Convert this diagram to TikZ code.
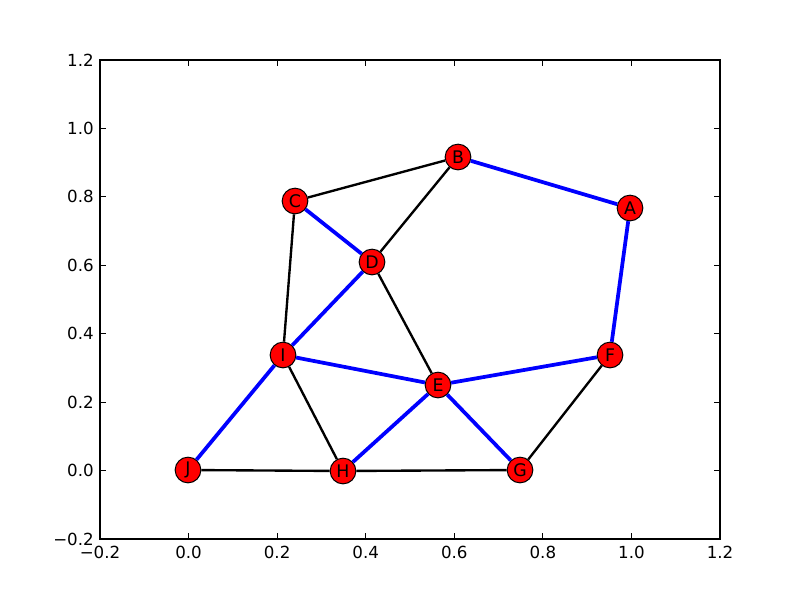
\documentclass[tikz,border=0pt]{standalone}
\usepackage{fontspec}
\setmainfont{DejaVu Sans}
\begin{document}
\begin{tikzpicture}[x=0.72pt,y=-0.72pt,
  vtx/.style={circle,draw=black,fill=red,line width=0.72pt,minimum size=18.5pt,inner sep=0pt,font=\fontsize{12.5}{14}\selectfont},
  blk/.style={draw=black,line width=1.7pt},
  blu/.style={draw=blue,line width=2.7pt},
  frame/.style={draw=black,line width=0.8pt},
  tick/.style={draw=black,line width=0.6pt},
  lab/.style={font=\fontsize{12}{14}\selectfont,inner sep=0pt}]
\useasboundingbox (0,0) rectangle (800,600);
% axes frame
\draw[frame] (100,60) rectangle (720,539);
% ticks and labels
\foreach \v/\t [count=\i from 0] in {-0.2/{−0.2},0.0/0.0,0.2/0.2,0.4/0.4,0.6/0.6,0.8/0.8,1.0/1.0,1.2/1.2} {
  \pgfmathsetmacro{\px}{100+\i*620/7}
  \pgfmathsetmacro{\py}{539-\i*479/7}
  \draw[tick] (\px,539) -- ++(0,-5.6);
  \draw[tick] (\px,60) -- ++(0,5.6);
  \draw[tick] (100,\py) -- ++(5.6,0);
  \draw[tick] (720,\py) -- ++(-5.6,0);
  \node[lab,anchor=north] (xl\i) at (\px,546) {\t};
  \node[lab,anchor=east] (yl\i) at (94,\py) {\t};
}
% vertices
\node[vtx] (A) at (630,208) {A};
\node[vtx] (B) at (458,157) {B};
\node[vtx] (C) at (295,201) {C};
\node[vtx] (D) at (372,262) {D};
\node[vtx] (E) at (438,385) {E};
\node[vtx] (F) at (610,355) {F};
\node[vtx] (G) at (520,470) {G};
\node[vtx] (H) at (343,471) {H};
\node[vtx] (I) at (283,355) {I};
\node[vtx] (J) at (188,470) {J};
% black edges
\draw[blk] (C) -- (B);
\draw[blk] (B) -- (D);
\draw[blk] (C) -- (I);
\draw[blk] (D) -- (E);
\draw[blk] (I) -- (H);
\draw[blk] (J) -- (H);
\draw[blk] (H) -- (G);
\draw[blk] (G) -- (F);
% blue edges
\draw[blu] (B) -- (A);
\draw[blu] (A) -- (F);
\draw[blu] (C) -- (D);
\draw[blu] (D) -- (I);
\draw[blu] (I) -- (J);
\draw[blu] (I) -- (E);
\draw[blu] (E) -- (F);
\draw[blu] (E) -- (H);
\draw[blu] (E) -- (G);
\end{tikzpicture}
\end{document}
